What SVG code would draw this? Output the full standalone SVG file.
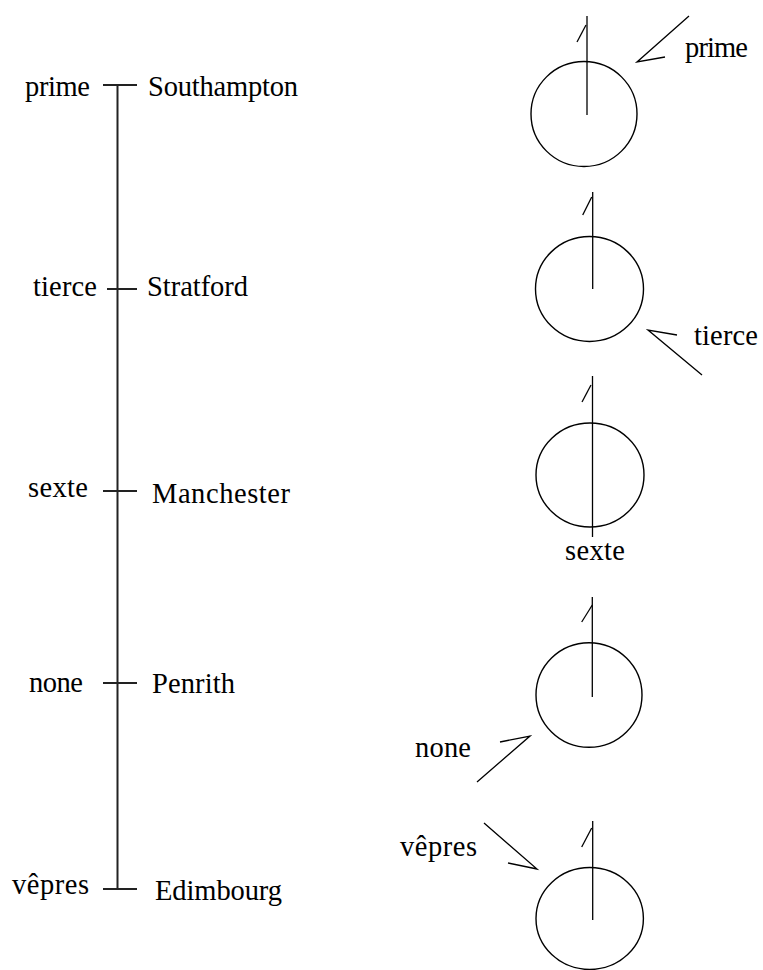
<svg xmlns="http://www.w3.org/2000/svg" width="763" height="970" viewBox="0 0 763 970">
<style>
text{font-family:"Liberation Serif","Times New Roman",serif;font-size:28.5px;fill:#000}
.ln{stroke:#000;stroke-width:1.3;fill:none;stroke-linecap:butt}
.axis{stroke:#222;stroke-width:2;fill:none}
.dial{stroke:#000;stroke-width:1.4;fill:none}
</style>
<rect width="763" height="970" fill="#fff"/>
<g id="timeline">
<line class="axis" x1="117.5" y1="85" x2="117.5" y2="889"/>
<line class="axis" x1="103" y1="85" x2="137" y2="85"/>
<line class="axis" x1="107" y1="289" x2="137" y2="289"/>
<line class="axis" x1="103" y1="491" x2="137" y2="491"/>
<line class="axis" x1="103" y1="683" x2="137" y2="683"/>
<line class="axis" x1="103" y1="889" x2="137" y2="889"/>
</g>
<g id="stop-prime"><text x="25" y="96" textLength="65">prime</text><text x="148" y="96" textLength="150">Southampton</text></g>
<g id="stop-tierce"><text x="33" y="296" textLength="64">tierce</text><text x="147" y="296" textLength="101">Stratford</text></g>
<g id="stop-sexte"><text x="28" y="497" textLength="60">sexte</text><text x="152" y="503" textLength="138">Manchester</text></g>
<g id="stop-none"><text x="29" y="692" textLength="54">none</text><text x="152" y="693" textLength="83">Penrith</text></g>
<g id="stop-vepres"><text x="12" y="894" textLength="77">vêpres</text><text x="155" y="900" textLength="127">Edimbourg</text></g>

<g id="dial-prime">
<ellipse class="dial" cx="584" cy="114" rx="53" ry="52.5"/>
<line class="ln" x1="587" y1="16" x2="587" y2="115"/>
<line class="ln" x1="586" y1="25" x2="577" y2="42"/>
<text x="685" y="57" textLength="63">prime</text>
</g>
<g id="dial-tierce">
<ellipse class="dial" cx="589.5" cy="289" rx="54" ry="52.5"/>
<line class="ln" x1="592.7" y1="192" x2="592.7" y2="289"/>
<line class="ln" x1="591.7" y1="197" x2="582.7" y2="215"/>
<text x="694" y="345" textLength="64">tierce</text>
</g>
<g id="dial-sexte">
<ellipse class="dial" cx="590" cy="475" rx="54" ry="52"/>
<line class="ln" x1="592.5" y1="376" x2="592.5" y2="537"/>
<line class="ln" x1="591" y1="385" x2="582" y2="402"/>
<text x="565" y="560" textLength="60">sexte</text>
</g>
<g id="dial-none">
<ellipse class="dial" cx="589" cy="695" rx="53" ry="52.3"/>
<line class="ln" x1="592.3" y1="597" x2="592.3" y2="697"/>
<line class="ln" x1="592.3" y1="605" x2="581.7" y2="622"/>
<text x="415" y="757" textLength="56">none</text>
</g>
<g id="dial-vepres">
<ellipse class="dial" cx="589.7" cy="918.5" rx="53.7" ry="51"/>
<line class="ln" x1="592.7" y1="821" x2="592.7" y2="920"/>
<line class="ln" x1="591.7" y1="828" x2="581.7" y2="847"/>
<text x="400" y="856" textLength="77">vêpres</text>
</g>

<g id="connectors">
<polyline class="ln" points="689,16 637,62 665,57"/>
<polyline class="ln" points="702,375 648,330 677,335"/>
<polyline class="ln" points="477,782 530,736 500,742"/>
<polyline class="ln" points="484,823 537,869 508,863"/>
</g>
</svg>
